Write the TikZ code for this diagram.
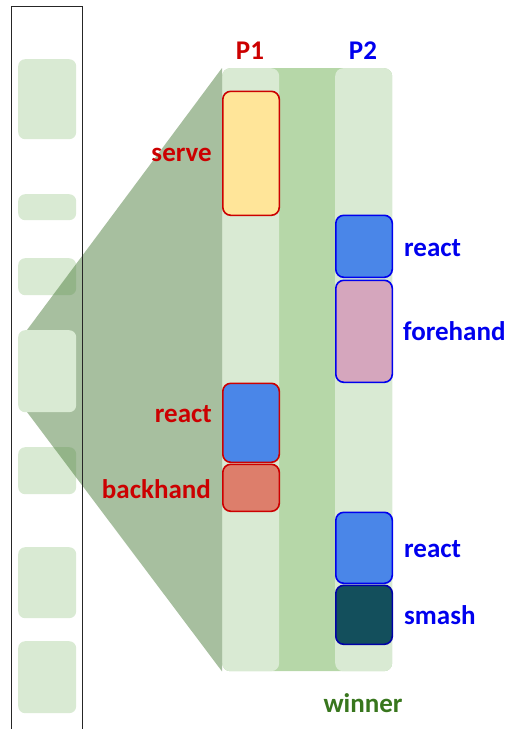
\documentclass[tikz,border=0pt]{standalone}
\usepackage{fontspec}
\setmainfont{Carlito}
\definecolor{paleg}{HTML}{D9EAD3}
\definecolor{bandg}{HTML}{B6D7A8}
\definecolor{fang}{HTML}{4F7F3F}
\definecolor{redln}{HTML}{CC0000}
\definecolor{blueln}{HTML}{0000EE}
\definecolor{winc}{HTML}{38761D}
\definecolor{servec}{HTML}{FFE599}
\definecolor{reactc}{HTML}{4A86E8}
\definecolor{backc}{HTML}{DD7E6B}
\definecolor{forec}{HTML}{D5A6BD}
\definecolor{smashc}{HTML}{134F5C}
\begin{document}
\begin{tikzpicture}[x=1pt,y=-1pt,
  thumb/.style={fill=paleg, draw=none, rounded corners=7pt, inner sep=0pt,
    anchor=north west, minimum width=58pt},
  col/.style={fill=paleg, draw=none, rounded corners=8pt, inner sep=0pt,
    anchor=north west, minimum width=57pt, minimum height=603pt},
  ev/.style={line width=1.6pt, rounded corners=8pt, inner sep=0pt,
    anchor=north west, minimum width=56.5pt},
  p1ev/.style={ev, draw=redln},
  p2ev/.style={ev, draw=blueln},
  lab/.style={font=\bfseries\fontsize{27}{27}\selectfont, inner sep=0pt},
  p1lab/.style={lab, text=redln, anchor=east},
  p2lab/.style={lab, text=blueln, anchor=west}]
\useasboundingbox (0,0) rectangle (513,729);
\clip (0,0) rectangle (513,729);

% overview strip: thumbnails of the rallies
\node[thumb, minimum height=80pt] (t1) at (18,59) {};
\node[thumb, minimum height=26pt] (t2) at (18,194) {};
\node[thumb, minimum height=37pt] (t3) at (18,258) {};
\node[thumb, minimum height=71pt] (t6) at (18,547) {};
\node[thumb, minimum height=72pt] (t7) at (18,641) {};
\node[thumb, minimum height=47pt] (t5) at (18,447) {};

% zoomed rally panel
\node[fill=bandg, rounded corners=8pt, inner sep=0pt, anchor=north west,
  minimum width=170pt, minimum height=603pt] (panel) at (222,68) {};
\node[col] (c1) at (222,68) {};
\node[col] (c2) at (335,68) {};

% magnifier fan from the selected thumbnail to the panel
\coordinate (fa) at (27,330);
\coordinate (fb) at (27,412);
\fill[fang, opacity=0.5] (fa) -- (panel.north west) -- (panel.south west) -- (fb) -- cycle;
\node[thumb, minimum height=82pt] (t4) at (18,330) {};

% strip frame
\draw[line width=0.8pt, black!85] (11,740) -- (11,6) -- (82,6) -- (82,740);

% player 1 strokes
\node[p1ev, fill=servec, minimum height=124pt] (serve) at (222,90.5) {};
\node[p1ev, fill=reactc, minimum height=79pt] (r1) at (222,382.5) {};
\node[p1ev, fill=backc, minimum height=47pt] (back) at (222,463.5) {};

% player 2 strokes
\node[p2ev, fill=reactc, minimum height=62pt] (r2) at (335,214.5) {};
\node[p2ev, fill=forec, minimum height=102pt] (fore) at (335,279.5) {};
\node[p2ev, fill=reactc, minimum height=71pt] (r3) at (335,511.5) {};
\node[p2ev, fill=smashc, draw=blueln!70!black, minimum height=59pt] (smash) at (335,584.5) {};

% headings and stroke labels
\node[lab, text=redln] (h1) at (250,51) {P1};
\node[lab, text=blueln] (h2) at (363,51) {P2};
\node[p1lab] (lserve) at (212,155) {serve};
\node[p1lab] (lr1) at (212,414) {react};
\node[p1lab] (lback) at (211,489) {backhand};
\node[p2lab] (lr2) at (404,248) {react};
\node[p2lab] (lfore) at (403,331) {forehand};
\node[p2lab] (lr3) at (404,549) {react};
\node[p2lab] (lsmash) at (404,615) {smash};
\node[lab, text=winc] (win) at (363,703) {winner};
\end{tikzpicture}
\end{document}
